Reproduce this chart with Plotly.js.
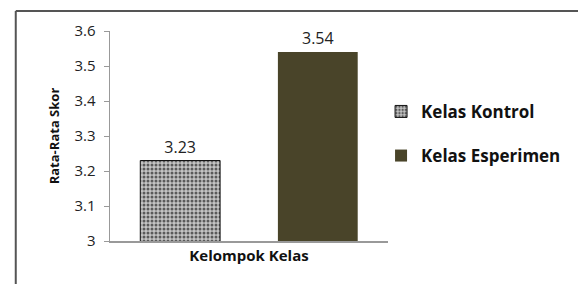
<!DOCTYPE html>
<html>
<head>
<meta charset="utf-8">
<script src="https://cdn.plot.ly/plotly-3.0.1.min.js"></script>
<style>html,body{margin:0;padding:0;background:#fff;}#chart{width:578px;height:284px;}</style>
</head>
<body>
<div id="chart"></div>
<script>
const categories = ["Kelompok Kelas"];
const seriesNames = ["Kelas Kontrol", "Kelas Esperimen"];
const kontrolValues = [3.23];
const esperimenValues = [3.54];
const yTickValues = [3, 3.1, 3.2, 3.3, 3.4, 3.5, 3.6];
const yTickLabels = ["3", "3.1", "3.2", "3.3", "3.4", "3.5", "3.6"];

const FONT = "'Open Sans', 'Noto Sans', sans-serif";

const traces = [
  {
    type: "bar",
    name: seriesNames[0],
    x: categories,
    y: kontrolValues,
    legendgroup: "a",
    text: kontrolValues.map(v => v.toFixed(2)),
    textposition: "outside",
    cliponaxis: false,
    textfont: {family: FONT, size: 16, color: "#222"},
    marker: {
      color: "#b0b0b0",
      line: {color: "#111", width: 1},
      pattern: {shape: ".", fgcolor: "#5a5a5a", bgcolor: "#c4c4c4", size: 4, solidity: 0.45}
    }
  },
  {
    type: "bar",
    name: seriesNames[1],
    x: categories,
    y: esperimenValues,
    legendgroup: "b",
    text: esperimenValues.map(v => v.toFixed(2)),
    textposition: "outside",
    cliponaxis: false,
    textfont: {family: FONT, size: 16, color: "#222"},
    marker: {color: "#494429", line: {width: 0}}
  }
];

const layout = {
  width: 578,
  height: 284,
  margin: {l: 110, r: 188, t: 31, b: 43},
  paper_bgcolor: "#fff",
  plot_bgcolor: "#fff",
  font: {family: FONT, color: "#222"},
  barmode: "group",
  bargap: 0.01,
  bargroupgap: 0.42,
  showlegend: true,
  legend: {
    x: 0.975, xanchor: "left", y: 0.51, yanchor: "middle",
    font: {family: FONT, size: 17, color: "#111", weight: "bold"},
    tracegroupgap: 19,
    traceorder: "grouped",
    itemwidth: 30
  },
  xaxis: {
    type: "category",
    showline: true, linecolor: "#999", linewidth: 1.5,
    ticks: "", showgrid: false,
    tickfont: {family: FONT, size: 15, color: "#111", weight: "bold"},
    fixedrange: true
  },
  yaxis: {
    range: [3, 3.6],
    tickvals: yTickValues,
    ticktext: yTickLabels,
    showline: true, linecolor: "#999", linewidth: 1.5,
    ticks: "outside", ticklen: 5, tickcolor: "#999",
    ticklabelstandoff: 5,
    showgrid: false, zeroline: false,
    tickfont: {family: FONT, size: 15, color: "#222"},
    title: {text: "Rata-Rata Skor", font: {family: FONT, size: 13, color: "#111", weight: "bold"}, standoff: 12},
    fixedrange: true
  },
  shapes: [
    {type: "line", xref: "paper", yref: "paper", x0: -0.339, x1: -0.339, y0: 1.095, y1: -0.3, line: {color: "#555", width: 2}},
    {type: "line", xref: "paper", yref: "paper", x0: -0.339, x1: 1.8, y0: 1.095, y1: 1.095, line: {color: "#555", width: 2}}
  ]
};

Plotly.newPlot("chart", traces, layout, {displayModeBar: false, staticPlot: true});
</script>
</body>
</html>
